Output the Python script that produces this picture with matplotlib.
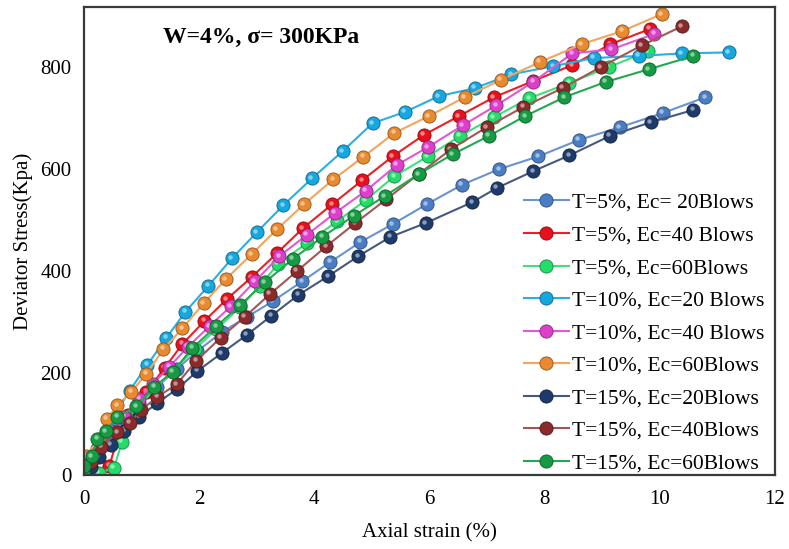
import matplotlib
matplotlib.use("Agg")
import matplotlib.pyplot as plt
import matplotlib.transforms as mtransforms
from matplotlib.colors import to_rgb

plt.rcParams["font.family"] = ["Liberation Serif", "DejaVu Serif"]

# Axial strain (%) / Deviator stress (kPa)
t5_e20_x = [0, 0.09, 0.23, 0.44, 0.70, 0.96, 1.27, 1.61, 1.97, 2.39, 2.83, 3.28, 3.79, 4.28,
            4.80, 5.36, 5.95, 6.56, 7.21, 7.89, 8.59, 9.30, 10.05, 10.79]
t5_e20_y = [0, 27, 51, 76, 110, 141, 173, 208, 243, 280, 310, 341, 380, 418,
            457, 492, 531, 569, 600, 625, 657, 682, 710, 741]

t5_e40_x = [0, 0.17, 0.44, 0.58, 0.77, 1.08, 1.40, 1.71, 2.09, 2.48, 2.91, 3.35, 3.80, 4.31,
            4.83, 5.36, 5.90, 6.51, 7.12, 7.80, 8.48, 9.14, 9.83]
t5_e40_y = [0, 4, 18, 71, 118, 163, 210, 257, 302, 345, 388, 435, 484, 531,
            578, 625, 667, 704, 741, 773, 804, 845, 875]

t5_e60_x = [0, 0.26, 0.52, 0.66, 0.91, 1.22, 1.54, 1.92, 2.30, 2.71, 3.05, 3.37, 3.87, 4.40,
            4.89, 5.39, 5.97, 6.53, 7.12, 7.73, 8.43, 9.11, 9.79]
t5_e60_y = [0, 4, 14, 65, 129, 169, 204, 247, 286, 329, 371, 414, 455, 498,
            539, 586, 625, 665, 702, 739, 769, 800, 831]

t10_e20_x = [0, 0.23, 0.49, 0.79, 1.10, 1.43, 1.76, 2.16, 2.57, 3.00, 3.46, 3.96, 4.49, 5.01,
             5.57, 6.16, 6.79, 7.42, 8.15, 8.85, 9.63, 10.38, 11.20]
t10_e20_y = [0, 51, 110, 165, 216, 269, 320, 371, 425, 476, 529, 582, 635, 690,
             712, 743, 759, 786, 802, 818, 822, 827, 829]

t10_e40_x = [0, 0.12, 0.26, 0.47, 0.70, 0.96, 1.19, 1.48, 1.80, 2.18, 2.55, 2.97, 3.39, 3.87,
             4.36, 4.89, 5.43, 5.97, 6.58, 7.16, 7.80, 8.48, 9.16, 9.90]
t10_e40_y = [0, 27, 57, 86, 114, 149, 178, 212, 251, 292, 331, 380, 429, 471,
             514, 557, 608, 643, 686, 725, 771, 827, 835, 865]

t10_e60_x = [0, 0.03, 0.26, 0.40, 0.58, 0.82, 1.08, 1.38, 1.71, 2.08, 2.46, 2.91, 3.35, 3.82,
             4.33, 4.85, 5.39, 5.99, 6.61, 7.24, 7.92, 8.64, 9.35, 10.03]
t10_e60_y = [0, 37, 71, 110, 137, 163, 198, 247, 288, 337, 384, 433, 482, 531,
             580, 624, 671, 704, 741, 775, 810, 845, 871, 904]

t15_e20_x = [0, 0.12, 0.26, 0.47, 0.70, 0.96, 1.27, 1.62, 1.97, 2.39, 2.83, 3.25, 3.72, 4.24,
             4.76, 5.32, 5.93, 6.74, 7.17, 7.80, 8.43, 9.13, 9.84, 10.58]
t15_e20_y = [0, 16, 35, 59, 86, 114, 141, 169, 204, 239, 275, 312, 353, 390,
             429, 467, 494, 535, 563, 596, 627, 665, 692, 716]

t15_e40_x = [0, 0.12, 0.30, 0.58, 0.79, 0.99, 1.27, 1.61, 1.95, 2.37, 2.79, 3.23, 3.70, 4.21,
             4.71, 5.25, 5.81, 6.37, 6.99, 7.63, 8.31, 8.97, 9.69, 10.38]
t15_e40_y = [0, 25, 55, 84, 102, 127, 153, 178, 224, 269, 310, 355, 400, 449,
             494, 541, 590, 639, 682, 722, 759, 800, 843, 880]

t15_e60_x = [0, 0.0, 0.14, 0.23, 0.38, 0.58, 0.91, 1.22, 1.54, 1.88, 2.30, 2.71, 3.14, 3.63,
             4.14, 4.68, 5.22, 5.81, 6.40, 7.03, 7.66, 8.34, 9.06, 9.81, 10.58]
t15_e60_y = [0, 18, 37, 71, 86, 114, 135, 173, 202, 249, 292, 333, 378, 424,
             467, 508, 547, 590, 629, 665, 704, 741, 771, 796, 822]

labels = ["T=5%, Ec= 20Blows", "T=5%, Ec=40 Blows", "T=5%, Ec=60Blows",
          "T=10%, Ec=20 Blows", "T=10%, Ec=40 Blows", "T=10%, Ec=60Blows",
          "T=15%, Ec=20Blows", "T=15%, Ec=40Blows", "T=15%, Ec=60Blows"]

series = [(t5_e20_x, t5_e20_y), (t5_e40_x, t5_e40_y), (t5_e60_x, t5_e60_y),
          (t10_e20_x, t10_e20_y), (t10_e40_x, t10_e40_y), (t10_e60_x, t10_e60_y),
          (t15_e20_x, t15_e20_y), (t15_e40_x, t15_e40_y), (t15_e60_x, t15_e60_y)]

line_colors = ["#6A93CF", "#F01E24", "#3EE07C", "#2AAFE3", "#E457D3",
               "#F4A45E", "#45597E", "#A45656", "#24A84F"]
marker_colors = ["#4A7EC4", "#E8101A", "#22DD6A", "#16A6E0", "#DD3FCB",
                 "#E98A2E", "#1E3A6A", "#8A2A2A", "#169A43"]


def lighten(c, f=0.6):
    r, g, b = to_rgb(c)
    return (r + (1 - r) * f, g + (1 - g) * f, b + (1 - b) * f)


def darken(c, f=0.6):
    r, g, b = to_rgb(c)
    return (r * f, g * f, b * f)


fig = plt.figure(figsize=(7.89, 5.49), dpi=100)
ax = fig.add_axes([0.1065, 0.1348, 0.8758, 0.8524])

hl = mtransforms.offset_copy(ax.transData, fig=fig, x=-1.6, y=1.6, units="dots")

for (xs, ys), lab, lc, mc in zip(series, labels, line_colors, marker_colors):
    ax.plot(xs, ys, color=lc, lw=1.5, marker="o", ms=9.5,
            mfc=mc, mec=darken(mc), mew=0.6, label=lab)
    ax.plot(xs, ys, ls="none", marker="o", ms=3.2, mfc=lighten(mc, 0.55),
            mec="none", alpha=0.9, transform=hl)

ax.set_xlim(0, 12)
ax.set_ylim(0, 918)
ax.set_xticks([0, 2, 4, 6, 8, 10, 12])
ax.set_yticks([0, 200, 400, 600, 800])
ax.tick_params(length=0, labelsize=15)
ax.tick_params(axis="x", pad=11)
ax.tick_params(axis="y", pad=9)
for s in ax.spines.values():
    s.set_color("#3a3a3a")
    s.set_linewidth(1.6)

ax.set_xlabel("Axial strain (%)", fontsize=15, labelpad=10)
ax.set_ylabel("Deviator Stress(Kpa)", fontsize=15, labelpad=5)
ax.text(0.114, 0.936, "W=4%, σ= 300KPa", transform=ax.transAxes,
        fontsize=17, fontweight="bold", va="center", ha="left")

ax.legend(loc="lower right", frameon=False, fontsize=15.5, handlelength=2.1,
          labelspacing=0.58, handletextpad=0.15, borderaxespad=0.0,
          bbox_to_anchor=(0.997, -0.015))

fig.savefig("out.png", dpi=100)
